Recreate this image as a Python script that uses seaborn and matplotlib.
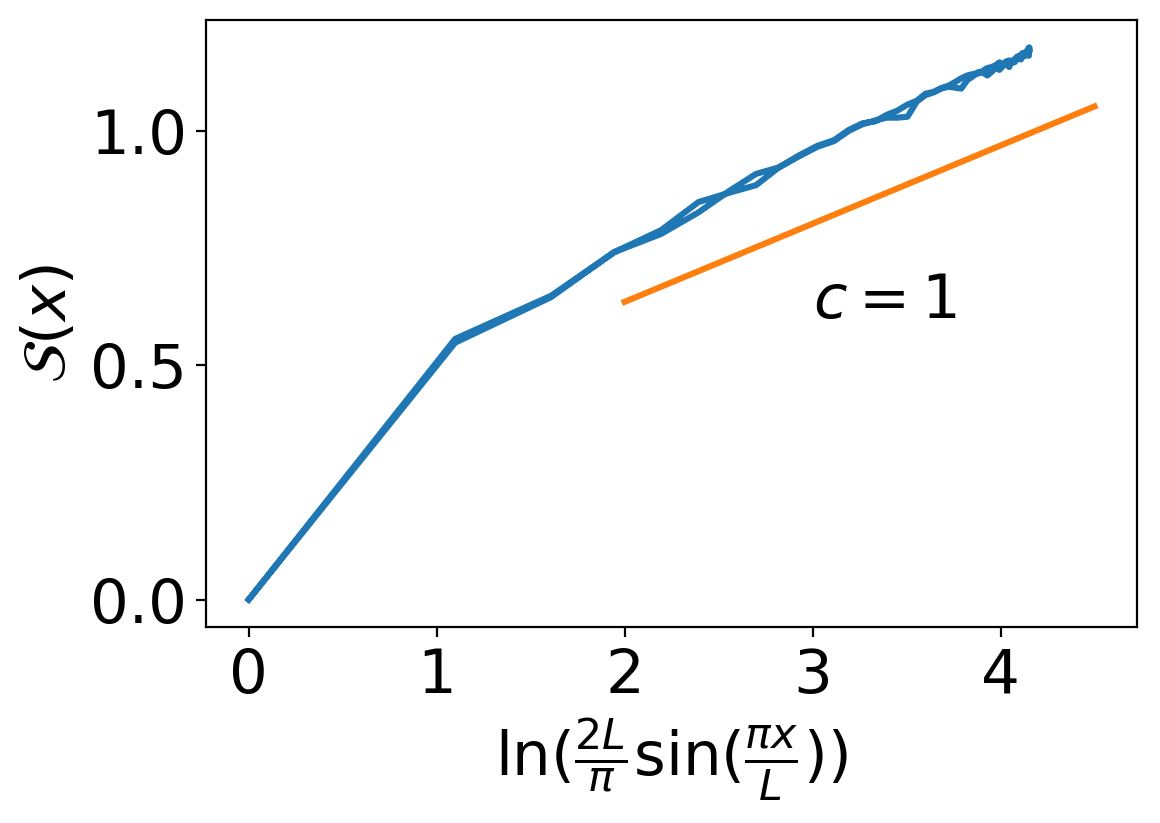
import pandas as pd
import seaborn as sns
import matplotlib
matplotlib.use("Agg")
import matplotlib.pyplot as plt

# x positions ln(2L/pi sin(pi x/L)), first half of the chain
log_chord = [0.000, 1.098, 1.608, 1.944, 2.194, 2.393, 2.558, 2.699, 2.821, 2.930,
             3.026, 3.114, 3.193, 3.266, 3.333, 3.394, 3.451, 3.505, 3.554, 3.600,
             3.644, 3.684, 3.722, 3.758, 3.791, 3.823, 3.852, 3.880, 3.906, 3.930,
             3.953, 3.974, 3.994, 4.013, 4.030, 4.046, 4.061, 4.074, 4.087, 4.098,
             4.108, 4.118, 4.126, 4.133, 4.139, 4.144, 4.148, 4.151, 4.152, 4.153]

# entropy on the way out (left half) and on the way back (right half)
entropy_left = [0.000, 0.556, 0.648, 0.741, 0.788, 0.848, 0.868, 0.884, 0.922, 0.948,
                0.968, 0.980, 1.002, 1.016, 1.020, 1.034, 1.043, 1.056, 1.064, 1.079,
                1.083, 1.091, 1.096, 1.104, 1.112, 1.118, 1.121, 1.122, 1.128, 1.134,
                1.136, 1.140, 1.146, 1.142, 1.148, 1.150, 1.145, 1.152, 1.158, 1.154,
                1.162, 1.166, 1.160, 1.168, 1.164, 1.172, 1.166, 1.176, 1.170, 1.178]
entropy_right = [0.000, 0.548, 0.645, 0.741, 0.780, 0.826, 0.872, 0.908, 0.922, 0.946,
                 0.966, 0.978, 1.000, 1.014, 1.022, 1.028, 1.028, 1.030, 1.062, 1.076,
                 1.082, 1.090, 1.094, 1.092, 1.090, 1.108, 1.116, 1.125, 1.124, 1.118,
                 1.126, 1.134, 1.130, 1.138, 1.144, 1.136, 1.150, 1.146, 1.152, 1.160,
                 1.152, 1.158, 1.166, 1.160, 1.170, 1.164, 1.176, 1.160, 1.172, 1.168]

# c = 1 reference slope
fit_x = [2.0, 4.5]
fit_y = [0.635, 1.052]

xticks = [0, 1, 2, 3, 4]
yticks = [0.0, 0.5, 1.0]


def main():
    df = pd.DataFrame({
        "x": log_chord + log_chord[::-1],
        "S": entropy_left + entropy_right[::-1],
    })
    fit = pd.DataFrame({"x": fit_x, "S": fit_y})

    fig = plt.figure(figsize=(5.8, 4.115), dpi=200)
    ax = fig.add_axes([0.178, 0.238, 0.802, 0.738])

    sns.lineplot(x="x", y="S", data=df, sort=False, estimator=None,
                 color="#1f77b4", lw=2.2, ax=ax)
    sns.lineplot(x="x", y="S", data=fit, sort=False, estimator=None,
                 color="#ff7f0e", lw=2.2, ax=ax)

    ax.text(3, 0.6, "$c=1$", fontsize=22)
    ax.set_xlabel(r"$\ln(\frac{2L}{\pi}\sin(\frac{\pi x}{L}))$", fontsize=22)
    ax.set_ylabel(r"$\mathcal{S}(x)$", fontsize=22)
    ax.tick_params(labelsize=22)
    ax.set_xticks(xticks)
    ax.set_yticks(yticks)

    fig.savefig("out.png", dpi=200)


if __name__ == "__main__":
    main()
